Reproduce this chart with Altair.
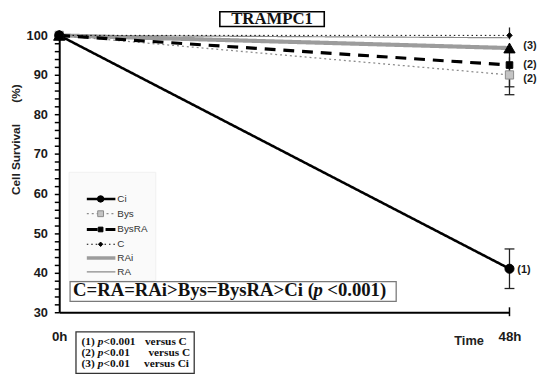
import altair as alt
import pandas as pd

# ---------------- data ----------------
series = ["Ci", "Bys", "BysRA", "C", "RAi", "RA"]
hours = [0, 48]
start_values = [100, 100, 100, 100, 100, 100]
end_values = [41, 90, 92.5, 100, 96.8, 99.4]

err_series = ["Ci", "Bys", "BysRA", "C"]
err_low = [36, 85, 87, 99]
err_high = [46, 94.5, 98, 102]
cap_values = [36, 46, 85, 87]

sig_series = ["RAi", "BysRA", "Bys", "Ci"]
sig_labels = ["(3)", "(2)", "(2)", "(1)"]

y_tick_values = list(range(30, 101, 2))
x_tick_values = [0, 48]

title_text = "TRAMPC1"
ylabel_main = "Cell Survival"
ylabel_unit = "(%)"
xlabel = "Time"
summary_parts = ["C=RA=RAi>Bys=BysRA>Ci (", "p", "<0.001)"]
foot_nums = ["(1)", "(2)", "(3)"]
foot_p = ["<0.001", "<0.01", "<0.01"]
foot_vs = ["versus C", "versus C", "versus Ci"]

# ---------------- styles / layout ----------------
W, H = 457, 281
style = {
    "Ci":    dict(color="#000000", width=2.6, dash=[1, 0], shape="circle", size=85, fill="#000000", stroke="#000000"),
    "Bys":   dict(color="#8c8c8c", width=1.3, dash=[2, 3], shape="square", size=70, fill="#c4c4c4", stroke="#8a8a8a"),
    "BysRA": dict(color="#000000", width=3.2, dash=[11, 8], shape="square", size=45, fill="#000000", stroke="#000000"),
    "C":     dict(color="#000000", width=1.0, dash=[1.5, 3], shape="diamond", size=30, fill="#000000", stroke="#000000"),
    "RAi":   dict(color="#9c9c9c", width=4.2, dash=[1, 0], shape="triangle-up", size=130, fill="#000000", stroke="#000000"),
    "RA":    dict(color="#8a8a8a", width=1.2, dash=[1, 0], shape=None),
}
line_order = ["RAi", "RA", "C", "Bys", "BysRA", "Ci"]
point_order = ["Bys", "BysRA", "C", "Ci", "RAi"]
legend_y = [166, 181, 197, 212, 226, 240]
sig_offsets = {"(3)": (14, -2), "(2)a": (14, 0), "(2)b": (14, 4), "(1)": (8, 1)}

SANS = "Liberation Sans"
SERIF = "Liberation Serif"

xs = alt.Scale(domain=[0, 48], nice=False, zero=False)
ys = alt.Scale(domain=[30, 100], nice=False, zero=False)

xaxis = alt.Axis(values=x_tick_values, labelExpr="datum.value + 'h'", ticks=False,
                 domainColor="#000000", domainWidth=2, labelFont=SANS, labelFontSize=13.5,
                 labelFontWeight="bold", labelColor="#1a1a1a", labelPadding=18,
                 labelFlush=False, grid=False, title=None)
yaxis = alt.Axis(values=y_tick_values, labelExpr="datum.value % 10 == 0 ? datum.label : ''",
                 tickSize=5, tickColor="#000000", tickWidth=1.5, domainColor="#000000",
                 domainWidth=2, labelFont=SANS, labelFontSize=13, labelFontWeight="bold",
                 labelColor="#1a1a1a", labelPadding=7, labelOverlap=False, grid=False, title=None)

X = alt.X("hour:Q", scale=xs, axis=xaxis)
Y = alt.Y("value:Q", scale=ys, axis=yaxis)

dummy = pd.DataFrame({"k": [0]})
layers = []

# legend background
layers.append(alt.Chart(dummy).mark_rect(fill="#fafafa", stroke="#f0f0f0", strokeWidth=1).encode(
    x=alt.value(10), x2=alt.value(98), y=alt.value(139), y2=alt.value(249)))
# summary box
layers.append(alt.Chart(dummy).mark_rect(fill="white", stroke="#7a7a7a", strokeWidth=1.3).encode(
    x=alt.value(11), x2=alt.value(342), y=alt.value(250), y2=alt.value(270)))
# title box
layers.append(alt.Chart(dummy).mark_rect(fill="white", stroke="#000000", strokeWidth=1.6).encode(
    x=alt.value(163), x2=alt.value(269), y=alt.value(-24), y2=alt.value(-9)))
# footnote box
layers.append(alt.Chart(dummy).mark_rect(fill="white", stroke="#333333", strokeWidth=1.3).encode(
    x=alt.value(17), x2=alt.value(137), y=alt.value(301), y2=alt.value(343)))

# lines
for s in line_order:
    i = series.index(s)
    df = pd.DataFrame({"hour": hours, "value": [start_values[i], end_values[i]]})
    st = style[s]
    layers.append(alt.Chart(df).mark_line(color=st["color"], strokeWidth=st["width"],
                                          strokeDash=st["dash"]).encode(x=X, y=Y))

# error bars
err_df = pd.DataFrame({"hour": [48] * len(err_series), "lo": err_low, "hi": err_high})
layers.append(alt.Chart(err_df).mark_rule(color="#222222", strokeWidth=1.3).encode(
    x=X, y=alt.Y("lo:Q", scale=ys, axis=yaxis), y2="hi:Q"))
cap_df = pd.DataFrame({"hour": [48] * len(cap_values), "value": cap_values})
layers.append(alt.Chart(cap_df).mark_rule(color="#222222", strokeWidth=1.3, xOffset=-5, x2Offset=5).encode(
    x=X, x2="hour:Q", y=Y))

# points
for s in point_order:
    i = series.index(s)
    df = pd.DataFrame({"hour": hours, "value": [start_values[i], end_values[i]]})
    st = style[s]
    layers.append(alt.Chart(df).mark_point(shape=st["shape"], size=st["size"], filled=True,
                                           fill=st["fill"], stroke=st["stroke"], strokeWidth=1,
                                           opacity=1).encode(x=X, y=Y))

# x-axis end tick
layers.append(alt.Chart(pd.DataFrame({"hour": [48]})).mark_rule(color="#000000", strokeWidth=1.5).encode(
    x=X, y=alt.value(H - 5), y2=alt.value(H + 4)))

# significance labels
seen2 = 0
for s, lab in zip(sig_series, sig_labels):
    i = series.index(s)
    key = lab
    if lab == "(2)":
        key = "(2)a" if seen2 == 0 else "(2)b"
        seen2 += 1
    dx, dy = sig_offsets[key]
    df = pd.DataFrame({"hour": [48], "value": [end_values[i]], "t": [lab]})
    layers.append(alt.Chart(df).mark_text(align="left", baseline="middle", dx=dx, dy=dy, font=SANS,
                                          fontSize=11, fontWeight="bold", color="#1a1a1a").encode(
        x=X, y=Y, text="t:N"))

# legend entries
for s, ly in zip(series, legend_y):
    st = style[s]
    layers.append(alt.Chart(dummy).mark_rule(color=st["color"], strokeWidth=min(st["width"], 3.5),
                                             strokeDash=st["dash"]).encode(
        x=alt.value(28), x2=alt.value(57), y=alt.value(ly)))
    if st["shape"] is not None and s != "RAi":
        layers.append(alt.Chart(dummy).mark_point(shape=st["shape"], size=max(st["size"] * 0.5, 20),
                                                  filled=True, fill=st["fill"], stroke=st["stroke"],
                                                  strokeWidth=1, opacity=1).encode(
            x=alt.value(42), y=alt.value(ly)))
    layers.append(alt.Chart(pd.DataFrame({"t": [s]})).mark_text(align="left", baseline="middle",
                                                                font=SANS, fontSize=10, color="#333333").encode(
        x=alt.value(59), y=alt.value(ly), text="t:N"))

# title
layers.append(alt.Chart(pd.DataFrame({"t": [title_text]})).mark_text(
    align="center", baseline="alphabetic", font=SERIF, fontSize=17, fontWeight="bold", color="#111111").encode(
    x=alt.value(216), y=alt.value(-12), text="t:N"))

# y-axis titles
layers.append(alt.Chart(pd.DataFrame({"t": [ylabel_main]})).mark_text(
    align="center", baseline="middle", angle=270, font=SANS, fontSize=12, fontWeight="bold", color="#222222").encode(
    x=alt.value(-44), y=alt.value(126), text="t:N"))
layers.append(alt.Chart(pd.DataFrame({"t": [ylabel_unit]})).mark_text(
    align="center", baseline="middle", angle=270, font=SANS, fontSize=12, fontWeight="bold", color="#222222").encode(
    x=alt.value(-44), y=alt.value(59), text="t:N"))

# x-axis title
layers.append(alt.Chart(pd.DataFrame({"t": [xlabel]})).mark_text(
    align="center", baseline="middle", font=SANS, fontSize=13, fontWeight="bold", color="#222222").encode(
    x=alt.value(416), y=alt.value(310), text="t:N"))

# summary text
sum_x = [14, 258, 272]
sum_style = ["normal", "italic", "normal"]
for txt, sx, fs in zip(summary_parts, sum_x, sum_style):
    layers.append(alt.Chart(pd.DataFrame({"t": [txt]})).mark_text(
        align="left", baseline="alphabetic", font=SERIF, fontSize=19, fontWeight="bold",
        fontStyle=fs, color="#111111").encode(x=alt.value(sx), y=alt.value(264.5), text="t:N"))

# footnote text
foot_y = [314, 325.5, 337]
vs_x = [87, 90.5, 86]
for n, p, v, fy, vx in zip(foot_nums, foot_p, foot_vs, foot_y, vs_x):
    for txt, fx, fs in [(n, 22.7, "normal"), ("p", 39, "italic"), (p, 45, "normal"), (v, vx, "normal")]:
        layers.append(alt.Chart(pd.DataFrame({"t": [txt]})).mark_text(
            align="left", baseline="alphabetic", font=SERIF, fontSize=11.5, fontWeight="bold",
            fontStyle=fs, color="#111111").encode(x=alt.value(fx), y=alt.value(fy), text="t:N"))

chart = alt.layer(*layers).properties(
    width=W, height=H,
    autosize=alt.AutoSizeParams(type="none"),
    padding={"left": 52, "top": 25, "right": 33, "bottom": 67},
).configure_view(stroke=None)

chart.save("out.html", embed_options={"renderer": "svg", "actions": False})
